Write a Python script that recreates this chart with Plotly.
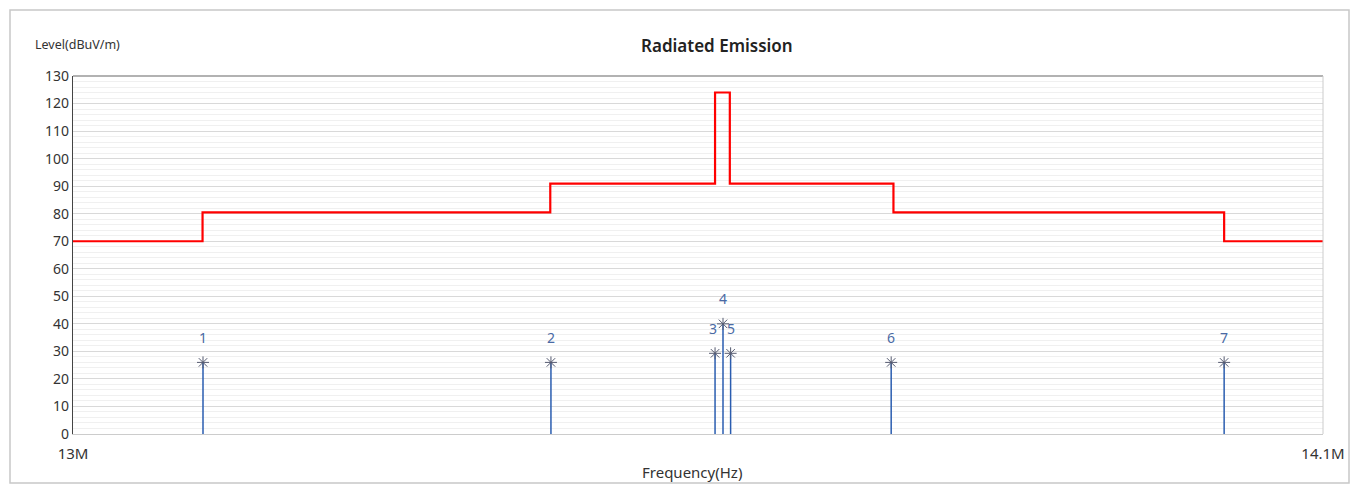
import plotly.graph_objects as go

# Limit line (step) breakpoints, MHz and dBuV/m
limit_freq_mhz = [13.0, 13.114, 13.420, 13.565, 13.578, 13.722, 14.013, 14.1]
limit_level = [70, 80.5, 90.9, 124, 90.9, 80.5, 70, 70]

# Peak markers
marker_ids = ["1", "2", "3", "4", "5", "6", "7"]
marker_freq_mhz = [13.1144, 13.4206, 13.5650, 13.5720, 13.5787, 13.7200, 14.0130]
marker_level = [26.0, 26.0, 29.3, 40.0, 29.3, 26.0, 26.0]

x_ticks_hz = [13.0e6, 14.1e6]
x_tick_text = ["13M", "14.1M"]
y_ticks = list(range(0, 131, 10))

FONT = "Noto Sans"

# page body has an 8px margin; plot area targets screen x 73..1323, y 76..434
fig = go.Figure()

fig.add_trace(go.Scatter(
    x=[f * 1e6 for f in limit_freq_mhz], y=limit_level,
    mode="lines", line=dict(color="#ff0000", width=2.2, shape="hv"),
    hoverinfo="skip", showlegend=False))

xs, ys = [], []
for f, v in zip(marker_freq_mhz, marker_level):
    xs += [f * 1e6, f * 1e6, None]
    ys += [0, v, None]
fig.add_trace(go.Scatter(x=xs, y=ys, mode="lines",
                         line=dict(color="#2a5db0", width=1.5),
                         showlegend=False, hoverinfo="skip"))
fig.add_trace(go.Scatter(
    x=[f * 1e6 for f in marker_freq_mhz], y=marker_level, mode="markers",
    marker=dict(symbol="asterisk-open", size=10, color="#555a70",
                line=dict(color="#555a70", width=1)),
    showlegend=False, hoverinfo="skip"))

# marker labels
for mid, f, v in zip(marker_ids, marker_freq_mhz, marker_level):
    xshift, yshift = 0, 25
    if mid == "3":
        xshift = -2
    fig.add_annotation(x=f * 1e6, y=v, text=mid, showarrow=False,
                       xshift=xshift, yshift=yshift,
                       font=dict(family=FONT, size=14, color="#4a6aa5"))

fig.update_layout(
    width=1343, height=477,
    margin=dict(l=65, r=28, t=68, b=51, autoexpand=False),
    paper_bgcolor="white", plot_bgcolor="white",
    font=dict(family=FONT, size=14, color="#333333"),
    xaxis=dict(range=[13.0e6, 14.1e6], tickvals=x_ticks_hz, ticktext=x_tick_text,
               showgrid=False, zeroline=False, showline=True, linecolor="#cccccc",
               linewidth=1, ticks="", ticklabelstandoff=6, automargin=False,
               tickfont=dict(size=15, color="#333333")),
    yaxis=dict(range=[0, 130], tickvals=y_ticks, showgrid=True, gridcolor="#d9d9d9",
               gridwidth=1, zeroline=False, showline=True, linecolor="#444444",
               linewidth=1.2, ticks="", automargin=False,
               tickfont=dict(size=14, color="#333333"),
               minor=dict(dtick=2, showgrid=True, gridcolor="#f0f0f0", gridwidth=1)),
)

# plot frame top/right
fig.add_shape(type="line", xref="paper", yref="paper", x0=0, x1=1, y0=1, y1=1,
              line=dict(color="#666666", width=1.2))
fig.add_shape(type="line", xref="paper", yref="paper", x0=1, x1=1, y0=0, y1=1,
              line=dict(color="#cccccc", width=1))
# outer border
fig.add_shape(type="rect", xref="paper", yref="paper", x0=(10 - 73) / 1250, x1=(1349 - 73) / 1250,
              y0=(434 - 483) / 358, y1=(434 - 10) / 358,
              line=dict(color="#c8c8c8", width=1.5), layer="below")

fig.add_annotation(xref="paper", yref="paper", x=(717 - 73) / 1250, y=(434 - 46) / 358,
                   text="Radiated Emission", showarrow=False,
                   font=dict(family=FONT, size=17, color="#222222", weight=600),
                   xanchor="center", yanchor="middle")
fig.add_annotation(xref="paper", yref="paper", x=(33 - 73) / 1250, y=(434 - 45) / 358,
                   text="Level(dBuV/m)", showarrow=False, xanchor="left", yanchor="middle",
                   font=dict(family=FONT, size=12.5, color="#333333"))
fig.add_annotation(xref="paper", yref="paper", x=(692 - 73) / 1250, y=(434 - 472) / 358,
                   text="Frequency(Hz)", showarrow=False, xanchor="center", yanchor="middle",
                   font=dict(family=FONT, size=15, color="#333333"))

fig.write_html("out.html")
